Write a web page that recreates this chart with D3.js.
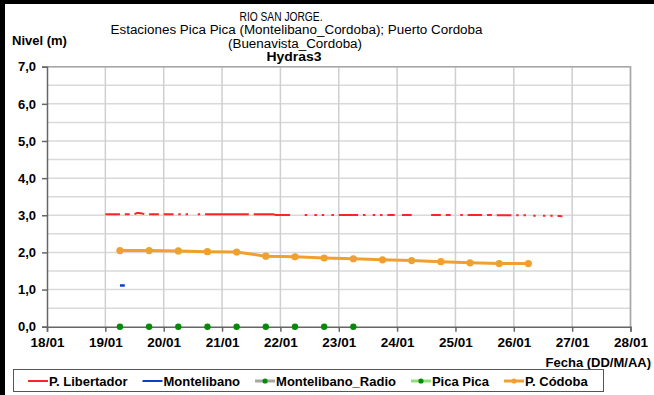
<!DOCTYPE html>
<html>
<head>
<meta charset="utf-8">
<script src="https://cdn.jsdelivr.net/npm/d3@7/dist/d3.min.js"></script>
<style>
  html, body { margin: 0; padding: 0; background: #fff; }
  svg { display: block; font-family: "Liberation Sans", Arial, sans-serif; }
</style>
</head>
<body>
<svg id="chart" width="654" height="395"></svg>
<script>
// Chart titles
const titleLines = ["RIO SAN JORGE.", "Estaciones Pica Pica (Montelibano_Cordoba); Puerto Cordoba", "(Buenavista_Cordoba)"];
const subtitle = "Hydras3";
const yTitle = "Nivel (m)";
const xTitle = "Fecha (DD/M/AA)";

// Axis ticks
const yTicks = [0, 1, 2, 3, 4, 5, 6, 7];
const xTickDates = ["2011-01-18", "2011-01-19", "2011-01-20", "2011-01-21", "2011-01-22",
                    "2011-01-23", "2011-01-24", "2011-01-25", "2011-01-26", "2011-01-27", "2011-01-28"];

// Series names
const seriesNames = ["P. Libertador", "Montelibano", "Montelibano_Radio", "Pica Pica", "P. Códoba"];

// P. Libertador: hourly readings starting 19/01 00:00 (null = no reading)
const libertadorStart = "2011-01-19T00:00";
const libertadorValues = [
  3.03, 3.03, 3.03, 3.03, 3.03, 3.03, 3.03, null, 3.03, 3.03,
  3.03, null, 3.03, 3.06, 3.06, 3.05, 3.03, null, 3.03, 3.03,
  3.03, 3.03, 3.03, null, 3.03, 3.03, 3.03, 3.03, 3.03, null,
  3.03, 3.03, null, 3.03, 3.03, null, null, null, 3.03, 3.03,
  null, 3.03, 3.03, 3.03, 3.03, 3.03, 3.03, 3.03, 3.03, 3.03,
  3.03, 3.03, 3.03, 3.03, 3.03, 3.03, 3.03, 3.03, 3.03, 3.03,
  null, 3.03, 3.03, 3.03, 3.03, 3.03, 3.03, 3.03, 3.03, 3.03,
  3.01, 3.01, 3.01, 3.01, 3.01, 3.01, 3.01, null, null, null,
  null, null, 3.01, 3.01, null, null, 3.01, 3.01, null, 3.01,
  3.01, null, null, 3.01, 3.01, null, 3.01, 3.01, 3.01, 3.01,
  3.01, 3.01, 3.01, 3.01, 3.01, null, 3.01, 3.01, null, null,
  3.01, 3.01, null, 3.01, 3.01, null, 3.01, 3.01, 3.01, 3.01,
  null, null, 3.01, 3.01, 3.01, 3.01, 3.01, null, null, null,
  null, null, null, null, 3.01, 3.01, 3.01, 3.01, 3.01, null,
  3.01, 3.01, 3.01, null, null, null, 3.01, 3.01, null, 3.01,
  3.01, 3.01, 3.01, 3.01, 3.01, 3.01, null, 3.01, 3.01, 3.01,
  null, 3.00, 3.00, 3.00, 3.00, 3.00, 3.00, 3.00, null, 3.00,
  3.00, null, 3.00, 3.00, null, null, 2.99, 2.99, null, null,
  2.99, 2.99, null, 2.99, 2.99, null, 2.98, 2.98, 2.97
];

// Montelibano
const montelibanoTimes = ["2011-01-19T06:00", "2011-01-19T08:00"];
const montelibanoValues = [1.11, 1.11];

// Pica Pica
const picaTimes = ["2011-01-19T06:00", "2011-01-19T18:00", "2011-01-20T06:00", "2011-01-20T18:00",
                   "2011-01-21T06:00", "2011-01-21T18:00", "2011-01-22T06:00", "2011-01-22T18:00",
                   "2011-01-23T06:00"];
const picaValues = [0, 0, 0, 0, 0, 0, 0, 0, 0];

// P. Córdoba
const cordobaTimes = ["2011-01-19T06:00", "2011-01-19T18:00", "2011-01-20T06:00", "2011-01-20T18:00",
                      "2011-01-21T06:00", "2011-01-21T18:00", "2011-01-22T06:00", "2011-01-22T18:00",
                      "2011-01-23T06:00", "2011-01-23T18:00", "2011-01-24T06:00", "2011-01-24T18:00",
                      "2011-01-25T06:00", "2011-01-25T18:00", "2011-01-26T06:00"];
const cordobaValues = [2.05, 2.05, 2.04, 2.02, 2.01, 1.90, 1.88, 1.85, 1.83, 1.80, 1.78, 1.75, 1.72, 1.70, 1.70];

// Colours
const colors = {
  libertador: "#ff2525",
  montelibano: "#0a3fd0",
  radio: "#a6a6a6",
  picaLine: "#8fe07a",
  picaDot: "#078a07",
  cordoba: "#f0a030"
};

const parse = d3.utcParse("%Y-%m-%dT%H:%M");
const parseDay = d3.utcParse("%Y-%m-%d");

const svg = d3.select("#chart");
const W = 654, H = 395;
const plot = { left: 47, right: 630.5, top: 66.7, bottom: 326.7 };

const x = d3.scaleUtc()
  .domain([parseDay(xTickDates[0]), parseDay(xTickDates[xTickDates.length - 1])])
  .range([plot.left, plot.right]);
const y = d3.scaleLinear().domain([0, 7]).range([plot.bottom, plot.top]);

const locale = d3.formatLocale({ decimal: ",", thousands: ".", grouping: [3], currency: ["", ""] });
const fmtY = locale.format(".1f");
const fmtX = d3.utcFormat("%d/%m");

// Outer frame (top and left edges)
svg.append("rect").attr("x", 0).attr("y", 0).attr("width", W).attr("height", 4).attr("fill", "#000");
svg.append("rect").attr("x", 0).attr("y", 0).attr("width", 5).attr("height", H).attr("fill", "#000");

// Horizontal gridlines every 0.5 m
const hGrid = d3.range(1, 15).map(i => i * 0.5);
svg.append("g").selectAll("line").data(hGrid).join("line")
  .attr("x1", plot.left).attr("x2", plot.right)
  .attr("y1", d => y(d)).attr("y2", d => y(d))
  .attr("stroke", "#d9d9d9").attr("stroke-width", 1.5);

// Vertical gridlines, one per day
const days = xTickDates.map(parseDay);
svg.append("g").selectAll("line").data(days.slice(1)).join("line")
  .attr("x1", d => x(d)).attr("x2", d => x(d))
  .attr("y1", plot.top).attr("y2", plot.bottom)
  .attr("stroke", "#cfcfcf").attr("stroke-width", 1.5);

// Plot area border (top/right)
svg.append("path")
  .attr("d", `M${plot.left},${plot.top}H${plot.right}V${plot.bottom}`)
  .attr("fill", "none").attr("stroke", "#a6a6a6").attr("stroke-width", 1.5);

// Axes
const yAxis = d3.axisLeft(y).tickValues(yTicks).tickSize(5).tickFormat(fmtY);
const gy = svg.append("g").attr("transform", `translate(${plot.left},0)`).call(yAxis);
gy.select(".domain").attr("stroke", "#666").attr("stroke-width", 1.5);
gy.selectAll(".tick line").attr("stroke", "#666").attr("stroke-width", 1.5);
gy.selectAll(".tick text")
  .attr("x", -11)
  .attr("font-size", 13).attr("font-weight", "bold").attr("fill", "#000")
  .attr("font-family", "Liberation Sans, Arial, sans-serif");

const xAxis = d3.axisBottom(x).tickValues(days).tickSize(5).tickFormat(fmtX);
const gx = svg.append("g").attr("transform", `translate(0,${plot.bottom})`).call(xAxis);
gx.select(".domain").attr("stroke", "#666").attr("stroke-width", 1.5);
gx.selectAll(".tick line").attr("stroke", "#666").attr("stroke-width", 1.5);
gx.selectAll(".tick text")
  .attr("y", 11)
  .attr("font-size", 13.5).attr("font-weight", "bold").attr("fill", "#000")
  .attr("font-family", "Liberation Sans, Arial, sans-serif");

// P. Libertador line (hourly, with gaps)
const t0 = parse(libertadorStart);
const libertador = libertadorValues.map((v, i) => ({ t: d3.utcHour.offset(t0, i), v }));
const line = d3.line().defined(d => d.v !== null).x(d => x(d.t)).y(d => y(d.v));
svg.append("path").datum(libertador)
  .attr("d", line)
  .attr("fill", "none").attr("stroke", colors.libertador).attr("stroke-width", 2);

// Montelibano line
const montelibano = montelibanoTimes.map((t, i) => ({ t: parse(t), v: montelibanoValues[i] }));
svg.append("path").datum(montelibano)
  .attr("d", line)
  .attr("fill", "none").attr("stroke", colors.montelibano).attr("stroke-width", 2.5);

// P. Córdoba line with markers
const cordoba = cordobaTimes.map((t, i) => ({ t: parse(t), v: cordobaValues[i] }));
svg.append("path").datum(cordoba)
  .attr("d", line)
  .attr("fill", "none").attr("stroke", colors.cordoba).attr("stroke-width", 3);
svg.append("g").selectAll("circle").data(cordoba).join("circle")
  .attr("cx", d => x(d.t)).attr("cy", d => y(d.v)).attr("r", 3.6)
  .attr("fill", colors.cordoba);

// Pica Pica markers
const pica = picaTimes.map((t, i) => ({ t: parse(t), v: picaValues[i] }));
svg.append("g").selectAll("circle").data(pica).join("circle")
  .attr("cx", d => x(d.t)).attr("cy", d => y(d.v)).attr("r", 3.2)
  .attr("fill", colors.picaDot);

// Titles
const title = svg.append("g").attr("font-size", 12).attr("fill", "#000").attr("text-anchor", "middle");
title.append("text").attr("x", 281).attr("y", 20.5).text(titleLines[0])
  .attr("textLength", 83).attr("lengthAdjust", "spacingAndGlyphs");
title.append("text").attr("x", 296.5).attr("y", 34).text(titleLines[1])
  .attr("textLength", 372).attr("lengthAdjust", "spacingAndGlyphs");
title.append("text").attr("x", 295).attr("y", 47.5).text(titleLines[2])
  .attr("textLength", 134).attr("lengthAdjust", "spacingAndGlyphs");
title.append("text").attr("x", 294).attr("y", 61).attr("font-weight", "bold").text(subtitle)
  .attr("textLength", 55).attr("lengthAdjust", "spacingAndGlyphs");

svg.append("text").attr("x", 12).attr("y", 45)
  .attr("font-size", 13).attr("font-weight", "bold").text(yTitle);
svg.append("text").attr("x", 651).attr("y", 367).attr("text-anchor", "end")
  .attr("font-size", 13).attr("font-weight", "bold").text(xTitle);

// Legend
const legend = svg.append("g");
legend.append("rect").attr("x", 13.5).attr("y", 369.5).attr("width", 590).attr("height", 22)
  .attr("fill", "#fff").attr("stroke", "#555").attr("stroke-width", 1);
const legendItems = [
  { name: seriesNames[0], line: colors.libertador, dot: null },
  { name: seriesNames[1], line: colors.montelibano, dot: null },
  { name: seriesNames[2], line: colors.radio, dot: colors.picaDot },
  { name: seriesNames[3], line: colors.picaLine, dot: colors.picaDot },
  { name: seriesNames[4], line: colors.cordoba, dot: colors.cordoba }
];
let lx = 28;
const ly = 381;
legendItems.forEach(item => {
  legend.append("line").attr("x1", lx).attr("x2", lx + 20).attr("y1", ly).attr("y2", ly)
    .attr("stroke", item.line).attr("stroke-width", item.dot ? 3 : 2);
  if (item.dot) {
    legend.append("circle").attr("cx", lx + 10).attr("cy", ly).attr("r", 2.6).attr("fill", item.dot);
  }
  const t = legend.append("text").attr("x", lx + 21).attr("y", ly + 4.5)
    .attr("font-size", 13).attr("font-weight", "bold").text(item.name);
  lx += 21 + t.node().getComputedTextLength() + 15;
});
</script>
</body>
</html>
